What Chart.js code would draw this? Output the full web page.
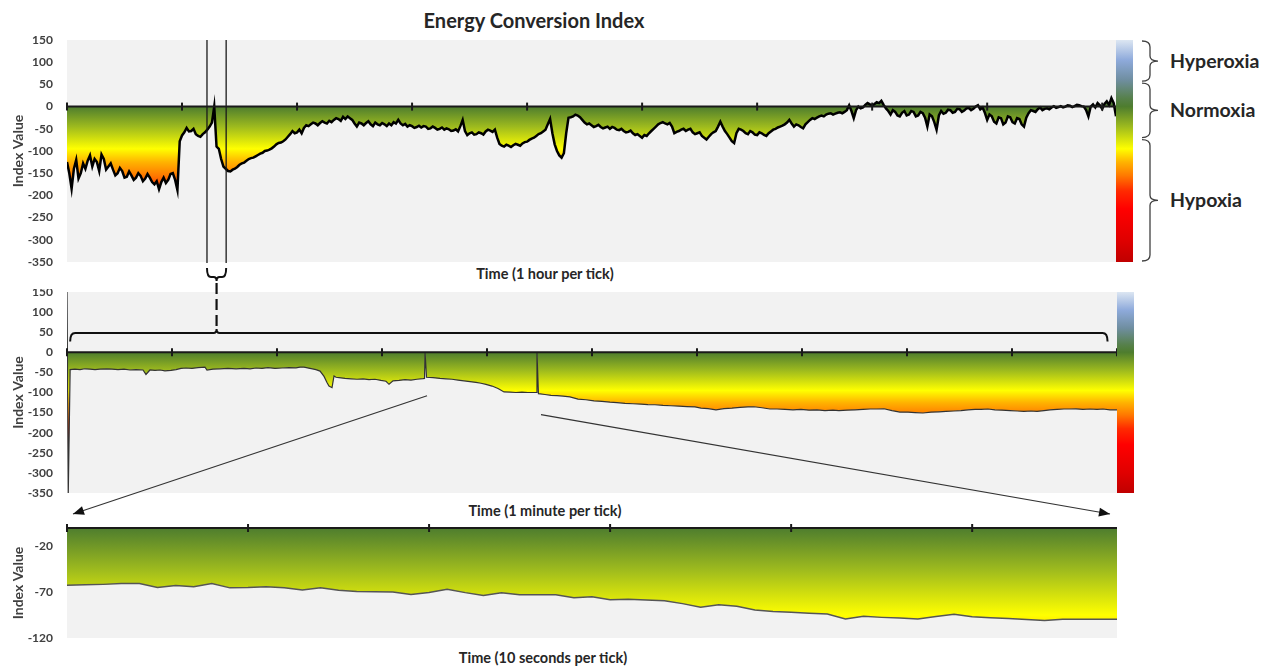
<!DOCTYPE html>
<html><head><meta charset="utf-8">
<script src="https://cdn.jsdelivr.net/npm/chart.js@4.4.1/dist/chart.umd.min.js"></script>
<style>
html,body{margin:0;padding:0;background:#fff;}
body{width:1269px;height:669px;overflow:hidden;position:relative;font-family:Lato,'Open Sans',sans-serif;}
canvas{position:absolute;left:0;}
.t{position:absolute;font-weight:700;color:#262626;white-space:nowrap;transform:translate(-50%,-50%);line-height:1;}
.z{position:absolute;font-weight:700;color:#262626;white-space:nowrap;transform:translateY(-50%);line-height:1;font-size:19.5px;}
#wrap2{position:absolute;left:0;top:289px;width:1140px;height:223px;overflow:hidden;}
#ov{z-index:5;top:0;pointer-events:none;}
</style></head><body>
<div class="t" style="left:534px;top:20px;font-size:20px">Energy Conversion Index</div>
<div class="t" style="left:545px;top:274px;font-size:14.5px">Time (1 hour per tick)</div>
<div class="t" style="left:545px;top:511px;font-size:14.5px">Time (1 minute per tick)</div>
<div class="t" style="left:543px;top:658px;font-size:14.5px">Time (10 seconds per tick)</div>
<canvas id="c1" width="1140" height="240" style="top:30px"></canvas>
<div id="wrap2"><canvas id="c2" width="1140" height="225" style="top:-9px"></canvas></div>
<canvas id="c3" width="1140" height="130" style="top:517px"></canvas>
<canvas id="ov" width="1269" height="669"></canvas>
<script>
// ---------------- DATA ----------------
const hourTicks = [0,1,2,3,4,5,6,7,8,9];
const hourSampleStep = 0.02; // hours between samples
const hourValues = [
-125,-150,-185,-140,-120,-162,-150,-128,-140,-122,-110,-135,-118,-125,-145,-108,-118,-142,-135,-128,
-142,-155,-150,-138,-145,-160,-158,-146,-155,-165,-160,-150,-156,-168,-162,-152,-160,-170,-175,-168,
-186,-170,-160,-172,-165,-152,-150,-165,-188,-78,-65,-58,-48,-56,-55,-50,-62,-66,-68,-62,
-58,-52,-45,-36,0,-90,-95,-118,-135,-140,-145,-146,-142,-140,-136,-131,-128,-126,-122,-118,
-116,-115,-112,-109,-106,-104,-100,-99,-97,-94,-90,-85,-82,-81,-78,-74,-68,-62,-55,-60,
-58,-52,-60,-48,-42,-44,-40,-36,-38,-42,-37,-33,-36,-38,-32,-35,-30,-26,-28,-32,
-23,-28,-22,-26,-30,-38,-45,-36,-38,-42,-37,-33,-40,-44,-36,-40,-42,-37,-40,-44,
-38,-42,-35,-38,-30,-38,-42,-39,-45,-42,-44,-48,-46,-43,-47,-44,-45,-50,-49,-45,
-48,-52,-50,-47,-52,-49,-51,-55,-54,-51,-56,-44,-30,-55,-64,-60,-58,-63,-62,-58,
-60,-63,-56,-52,-54,-57,-52,-70,-84,-88,-90,-86,-88,-91,-87,-84,-86,-88,-83,-80,
-79,-75,-72,-70,-66,-62,-60,-56,-52,-40,-28,-60,-85,-100,-110,-115,-105,-60,-25,-24,
-22,-18,-20,-24,-30,-36,-40,-38,-42,-46,-44,-41,-46,-49,-47,-45,-50,-46,-48,-52,
-53,-50,-55,-58,-57,-54,-60,-64,-62,-66,-70,-64,-66,-60,-55,-50,-45,-40,-37,-35,
-38,-40,-37,-45,-60,-57,-55,-52,-50,-55,-52,-50,-58,-62,-60,-58,-66,-70,-74,-68,
-62,-58,-55,-45,-34,-45,-55,-62,-70,-78,-82,-60,-50,-52,-55,-60,-62,-55,-58,-63,
-64,-58,-60,-64,-66,-60,-56,-52,-50,-47,-45,-43,-40,-36,-30,-38,-45,-40,-42,-46,
-49,-40,-35,-30,-26,-28,-25,-22,-20,-22,-18,-16,-15,-18,-16,-14,-13,-15,-12,-8,
3,-10,-26,-8,0,-4,-2,4,8,5,2,6,10,8,13,4,-4,-10,-18,-8,
-12,-20,-22,-14,-10,-20,-18,-10,-12,-22,-20,-12,-15,-25,-45,-18,-22,-35,-52,-20,
-10,-16,-14,-7,-8,-14,-12,-5,-6,-12,-9,-4,-3,-8,-5,0,3,-6,-2,-14,
-30,-18,-22,-34,-38,-24,-26,-40,-36,-22,-24,-35,-38,-26,-28,-40,-45,-25,-15,-8,
-10,-12,-6,-2,-8,-5,-4,-6,-2,1,-3,-1,1,-2,0,3,2,-1,1,4,
3,1,0,-8,-22,0,5,-2,8,3,-5,6,12,4,19,8,-22];

const minuteTicks = [0,1,2,3,4,5,6,7,8,9,10];
const minuteTimes = [0,0.012,0.03,0.076,0.124,0.171,0.219,0.267,0.314,0.381,0.429,0.486,0.543,0.6,0.657,0.724,0.752,0.79,0.838,0.886,0.933,0.99,1.038,1.086,1.133,1.19,1.248,1.314,1.333,1.39,1.457,1.533,1.61,1.686,1.743,1.8,1.857,1.914,1.981,2.048,2.114,2.181,2.219,2.257,2.314,2.371,2.41,2.448,2.476,2.495,2.524,2.543,2.562,2.59,2.648,2.705,2.762,2.819,2.876,2.933,2.99,3.038,3.067,3.105,3.162,3.219,3.276,3.333,3.39,3.405,3.41,3.424,3.486,3.552,3.61,3.667,3.724,3.781,3.838,3.895,3.943,3.99,4.048,4.105,4.162,4.219,4.276,4.333,4.39,4.448,4.471,4.476,4.49,4.552,4.61,4.667,4.724,4.79,4.867,4.943,5.019,5.095,5.171,5.238,5.314,5.39,5.467,5.533,5.6,5.676,5.752,5.829,5.905,5.981,6.038,6.105,6.181,6.257,6.333,6.41,6.486,6.543,6.619,6.695,6.762,6.838,6.914,6.99,7.067,7.143,7.219,7.295,7.352,7.429,7.505,7.581,7.648,7.714,7.781,7.857,7.933,8.01,8.076,8.152,8.229,8.305,8.371,8.448,8.514,8.581,8.648,8.705,8.771,8.838,8.905,8.981,9.048,9.114,9.181,9.238,9.305,9.362,9.429,9.495,9.552,9.61,9.676,9.743,9.81,9.867,9.933,10];
const minuteValues = [150,-350,-43,-42,-43,-41,-42,-43,-42,-41,-42,-43,-42,-44,-43,-44,-55,-44,-45,-44,-46,-45,-43,-40,-39,-40,-38,-37,-44,-42,-41,-40,-41,-40,-41,-39,-40,-38,-40,-39,-38,-38.6,-37,-36.9,-40,-43,-46.8,-60,-75,-83.7,-88,-59,-62,-63,-65,-66,-67,-66,-68,-67,-70,-72,-79.6,-71,-70,-68,-69,-67,-65.7,-65,0,-62,-63,-65,-66,-67,-69,-71,-73,-75,-77,-79.6,-84,-90,-98.5,-99,-100,-99,-100,-100,-100,0,-103,-105,-107,-108,-109,-111,-116.6,-118,-121,-122,-124,-125,-127,-128,-129,-130,-130.5,-132,-133,-134,-135,-136,-138.8,-140,-143,-140,-139,-137,-136,-135.5,-138,-141,-141,-142,-143,-142,-144,-143,-145,-144,-145,-144,-143,-142,-141,-141,-140.5,-145,-148.6,-149,-150,-151,-149,-148,-147,-146,-145,-143,-142,-142,-141,-143,-144,-145,-146,-147,-146,-147,-145,-143,-142,-141,-141,-140.5,-142,-141,-142,-141,-143,-143];

const secondTicks = [0,10,20,30,40,50];
const secondValues = [
-62.4,-62,-61.5,-60.6,-60.6,-65,-62.7,-64,-60.6,-65.3,
-65,-64,-65.3,-67.5,-65.3,-68,-69.3,-69.5,-69.8,-72.5,
-70.3,-66.7,-70.5,-73.6,-70.7,-72.9,-72.9,-72.9,-76,-75,
-78.3,-77.6,-78.5,-79.4,-82.5,-86.5,-83.8,-85.3,-89.5,-91,
-92,-93,-93.9,-99.3,-96.4,-97.5,-98.2,-99.3,-96.5,-94.2,
-96.8,-97.8,-98.6,-99.7,-100.8,-99.6,-99.6,-99.6,-99.6];

const indexTicksZoom = [-120,-70,-20];
const zoneLabels = ['Hyperoxia','Normoxia','Hypoxia'];
const zoneBounds = [150,55,-72,-350];
const windowStartHour = 1.217, windowMinutes = 10;
const zoomStartMinute = 3.41, zoomEndMinute = 4.476;

// ---------------- STYLE ----------------
const GRAD = [[150,'#dce6f2'],[105,'#8eaadb'],[60,'#6f8ea0'],[18,'#56804a'],[0,'#4e7d2e'],[-45,'#9dba1e'],[-95,'#ffff00'],[-125,'#ffb300'],[-155,'#ff7a00'],[-190,'#ff2a00'],[-230,'#ff0000'],[-300,'#e00000'],[-350,'#c00000']];
Chart.defaults.font.family = "Lato, 'Open Sans', sans-serif";
const TICK_COLOR = '#404040';

function valueGradient(chart){
  const {ctx, scales:{y}} = chart;
  const g = ctx.createLinearGradient(0, y.getPixelForValue(150), 0, y.getPixelForValue(-350));
  GRAD.forEach(([v,c]) => g.addColorStop((150 - v) / 500, c));
  return g;
}
const plotBg = {id:'plotBg', beforeDraw(chart){
  const {ctx, chartArea:a} = chart; ctx.save(); ctx.fillStyle = '#f2f2f2';
  ctx.fillRect(a.left, a.top, a.right - a.left, a.bottom - a.top); ctx.restore();
}};
function zeroAxis(ticks){
  return {id:'zeroAxis', afterDatasetsDraw(chart){
    const {ctx, chartArea:a, scales:{x,y}} = chart; const y0 = y.getPixelForValue(0);
    ctx.save(); ctx.strokeStyle = '#1a1a1a'; ctx.lineWidth = 2;
    ctx.beginPath(); ctx.moveTo(a.left, y0); ctx.lineTo(a.right, y0); ctx.stroke();
    ticks.forEach(t => { const px = x.getPixelForValue(t); ctx.beginPath(); ctx.moveTo(px, y0 - 4); ctx.lineTo(px, y0 + 4); ctx.stroke(); });
    ctx.restore();
  }};
}
const colorBar = {id:'colorBar', afterDraw(chart){
  const {ctx, chartArea:a} = chart; ctx.save(); ctx.fillStyle = valueGradient(chart);
  ctx.fillRect(a.right, a.top, 17, a.bottom - a.top); ctx.restore();
}};

function makeChart(id, points, opts){
  return new Chart(document.getElementById(id), {
    type:'line',
    data:{datasets:[{data:points, borderColor:opts.line, borderWidth:opts.lw, pointRadius:0, tension:0, fill:'origin',
      backgroundColor:(c) => c.chart.chartArea ? valueGradient(c.chart) : 'rgba(0,0,0,0)'}]},
    options:{
      responsive:false, animation:false, events:[],
      layout:{padding:opts.pad},
      plugins:{legend:{display:false}, tooltip:{enabled:false}},
      scales:{
        x:{type:'linear', display:false, min:opts.xmin, max:opts.xmax},
        y:{min:opts.ymin, max:opts.ymax,
           grid:{display:false, drawTicks:true, tickLength:14}, border:{display:false},
           ticks:{stepSize:opts.step, color:TICK_COLOR, padding:0, font:{size:12, weight:'bold'}},
           title:{display:true, text:'Index Value', color:'#404040', font:{size:14, weight:'bold'}, padding:{top:10,bottom:4}},
           afterBuildTicks: opts.fixedTicks ? (s => { s.ticks = opts.fixedTicks.map(v => ({value:v})); }) : undefined,
           afterFit: s => { s.width = 67; }}
      }
    },
    plugins: opts.plugins
  });
}

const ch1 = makeChart('c1', hourValues.map((v,i) => ({x:i*hourSampleStep, y:v})), {
  line:'#000', lw:2.5, pad:{top:10,right:24,bottom:8,left:0}, xmin:0, xmax:(hourValues.length-1)*hourSampleStep,
  ymin:-350, ymax:150, step:50, plugins:[plotBg, zeroAxis(hourTicks), colorBar]});
const ch2 = makeChart('c2', minuteTimes.map((t,i) => ({x:t, y:minuteValues[i]})), {
  line:'#333', lw:1.2, pad:{top:12,right:23,bottom:12,left:0}, xmin:0, xmax:10,
  ymin:-350, ymax:150, step:50, plugins:[plotBg, zeroAxis(minuteTicks), colorBar]});
const ch3 = makeChart('c3', secondValues.map((v,i) => ({x:i, y:v})), {
  line:'#555', lw:1.5, pad:{top:11,right:23,bottom:9,left:0}, xmin:0, xmax:secondValues.length-1,
  ymin:-120, ymax:0, step:50, fixedTicks:indexTicksZoom, plugins:[plotBg, zeroAxis(secondTicks)]});

// ---------------- ANNOTATIONS ----------------
const top1 = 30, top2 = 280, top3 = 517;
const X1 = h => ch1.scales.x.getPixelForValue(h);
const Y1 = v => ch1.scales.y.getPixelForValue(v) + top1;
const X2 = m => ch2.scales.x.getPixelForValue(m);
const Y2 = v => ch2.scales.y.getPixelForValue(v) + top2;
const o = document.getElementById('ov').getContext('2d');
o.lineCap = 'butt';
function seg(x0,y0,x1,y1){ o.beginPath(); o.moveTo(x0,y0); o.lineTo(x1,y1); o.stroke(); }

// window lines on chart 1
const xa = X1(windowStartHour), xb = X1(windowStartHour + windowMinutes/60), xm = (xa + xb) / 2;
o.strokeStyle = '#1a1a1a'; o.lineWidth = 1.3;
seg(xa, Y1(150), xa, Y1(-350) + 1); seg(xb, Y1(150), xb, Y1(-350) + 1);
// bracket under window
const by0 = Y1(-350) + 6, by1 = Y1(-350) + 15;
o.lineWidth = 2; o.strokeStyle = '#111';
o.beginPath(); o.moveTo(xa, by0); o.quadraticCurveTo(xa, by1, xa + 4, by1); o.lineTo(xm - 3, by1);
o.quadraticCurveTo(xm, by1, xm, by1 + 4); o.quadraticCurveTo(xm, by1, xm + 3, by1); o.lineTo(xb - 4, by1);
o.quadraticCurveTo(xb, by1, xb, by0); o.stroke();
// bracket above chart 2
const b2y = Y2(48), b2e = Y2(27), bl = X2(0.03), br = X2(9.91);
o.beginPath(); o.moveTo(bl, b2e); o.quadraticCurveTo(bl, b2y, bl + 5, b2y); o.lineTo(xm - 3, b2y);
o.quadraticCurveTo(xm, b2y, xm, b2y - 4); o.quadraticCurveTo(xm, b2y, xm + 3, b2y); o.lineTo(br - 5, b2y);
o.quadraticCurveTo(br, b2y, br, b2e); o.stroke();
// dashed connector
o.save(); o.setLineDash([11,5]); o.lineWidth = 2.2; seg(xm, by1 + 6, xm, b2y - 4); o.restore();

// arrows to chart 3
function arrow(x0,y0,x1,y1){
  o.strokeStyle = '#333'; o.fillStyle = '#111'; o.lineWidth = 1.2; seg(x0,y0,x1,y1);
  const ang = Math.atan2(y1-y0, x1-x0), L = 11, W = 4.5;
  o.beginPath(); o.moveTo(x1,y1);
  o.lineTo(x1 - L*Math.cos(ang) + W*Math.sin(ang), y1 - L*Math.sin(ang) - W*Math.cos(ang));
  o.lineTo(x1 - L*Math.cos(ang) - W*Math.sin(ang), y1 - L*Math.sin(ang) + W*Math.cos(ang));
  o.closePath(); o.fill();
}
const ay = top3 + ch3.chartArea.top - 14;
arrow(X2(zoomStartMinute) + 2, Y2(-108), ch3.chartArea.left + 6, ay);
arrow(X2(zoomEndMinute) + 4, Y2(-155), ch3.chartArea.right - 7, ay);

// zone braces and labels
const cbRight = ch1.chartArea.right + 17;
const hookX = cbRight + 9, spineX = cbRight + 17, tipX = cbRight + 25;
o.strokeStyle = '#404040'; o.lineWidth = 1.3;
zoneLabels.forEach((name, i) => {
  const y0 = Y1(zoneBounds[i]) + 1, y1 = Y1(zoneBounds[i+1]) - 1, m = (y0 + y1) / 2;
  o.beginPath(); o.moveTo(hookX, y0); o.quadraticCurveTo(spineX, y0, spineX, y0 + 6); o.lineTo(spineX, m - 5);
  o.quadraticCurveTo(spineX, m, tipX, m); o.quadraticCurveTo(spineX, m, spineX, m + 5); o.lineTo(spineX, y1 - 6);
  o.quadraticCurveTo(spineX, y1, hookX, y1); o.stroke();
  const d = document.createElement('div'); d.className = 'z'; d.textContent = name;
  d.style.left = (tipX + 12) + 'px'; d.style.top = m + 'px'; document.body.appendChild(d);
});
</script>
</body></html>
